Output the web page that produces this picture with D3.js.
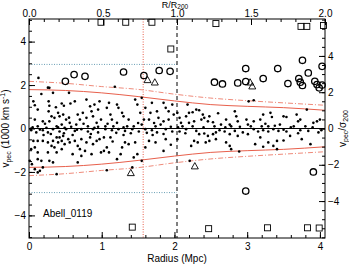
<!DOCTYPE html>
<html><head><meta charset="utf-8">
<script src="https://cdn.jsdelivr.net/npm/d3@7"></script>
<style>body{margin:0;background:#fff}svg{display:block}text{font-family:"Liberation Sans",Arial,sans-serif;fill:#000}</style>
</head><body><svg id="c" width="349" height="265"></svg>
<script>
// ---- data ----
const clusterName = "Abell_0119";
const r200 = 2.035;        // Mpc
const sigma200 = 0.835;    // 1000 km/s
const rLimit = 1.57;       // Mpc (red dotted line)
const vCut = 2.95;         // blue dotted lines
const xTicks = [0,1,2,3,4];
const topTicks = [0.0,0.5,1.0,1.5,2.0];
const yTicks = [-4,-2,0,2,4];
const profR = [0, 0.5, 1.0, 1.5, 2.0, 2.5, 3.0, 3.5, 4.07];
const profSolid = [1.79, 1.75, 1.64, 1.47, 1.27, 1.10, 1.02, 0.96, 0.84];
const profDash = [2.17, 2.08, 1.93, 1.80, 1.58, 1.40, 1.28, 1.18, 1.07];
const members = [
[0.17,1.59],[0.28,1.87],[0.33,1.64],[0.55,1.64],[0.06,1.25],[0.08,1.07],[0.12,0.87],[0.27,1.25],[0.28,1.05],[0.37,0.98],
[0.45,1.15],[0.48,1.05],[0.57,1.15],[0.63,1.25],[0.79,1.33],[0.84,1.02],[0.9,1.1],[0.97,1.25],[0.95,0.87],[0.86,0.79],
[0.27,0.79],[0.40,0.72],[0.42,0.56],[0.47,0.64],[0.31,0.56],[0.35,0.49],[0.08,0.41],[0.19,0.33],[0.28,0.33],[0.51,0.41],
[0.56,0.26],[0.67,0.64],[0.70,0.41],[0.74,0.72],[0.79,0.49],[0.88,0.56],[0.93,0.26],[0.99,0.41],[0.65,0.18],[0.45,0.18],
[0.12,0.1],[0.24,0.03],[0.38,0.1],[0.49,0.03],[0.81,0.1],[0.9,0.03],[0.03,0.0],[0.13,2.33],[0.26,1.88],[1.18,1.92],
[0.03,-0.08],[0.1,-0.18],[0.19,-0.08],[0.26,-0.18],[0.33,-0.03],[0.42,-0.14],[0.51,-0.03],[0.63,-0.11],[0.72,-0.03],[0.81,-0.14],
[0.88,-0.03],[0.95,-0.18],[0.06,-0.57],[0.12,-0.57],[0.19,-0.57],[0.26,-0.64],[0.33,-0.57],[0.38,-0.41],[0.40,-0.64],[0.45,-0.57],
[0.42,-0.41],[0.47,-0.34],[0.49,-0.72],[0.54,-0.49],[0.56,-0.64],[0.31,-0.8],[0.35,-0.87],[0.03,-0.95],[0.08,-0.87],[0.12,-1.1],
[0.26,-1.1],[0.38,-1.1],[0.45,-0.95],[0.63,-0.57],[0.67,-0.8],[0.72,-0.49],[0.79,-0.64],[0.84,-0.41],[0.88,-0.72],[0.93,-0.57],
[0.97,-0.49],[0.99,-1.1],[0.77,-1.03],[0.72,-1.26],[0.67,-1.56],[0.6,-1.18],[0.86,-1.18],[0.01,-1.49],[0.04,-1.64],[0.12,-1.41],
[0.17,-1.49],[0.28,-1.49],[0.33,-1.56],[0.08,-1.87],[0.12,-2.02],[0.15,-1.95],[0.19,-1.79],[0.38,-2.1],[0.2,-0.3],[0.6,-0.3],
[1.10,1.18],[1.07,0.95],[1.21,1.1],[1.23,0.95],[1.28,0.72],[1.12,0.64],[1.14,0.41],[1.21,0.26],[1.30,0.56],[1.37,0.41],
[1.46,1.33],[1.49,1.1],[1.55,1.41],[1.53,0.72],[1.6,0.95],[1.58,0.41],[1.65,0.41],[1.69,1.18],[1.67,0.72],[1.76,0.79],
[1.78,0.49],[1.85,1.18],[1.88,0.95],[1.92,0.79],[1.99,0.64],[1.97,1.1],[1.85,0.33],[1.92,0.41],[1.05,0.1],[1.35,0.1],
[1.44,0.1],[1.55,0.18],[1.74,0.1],[1.81,0.18],[1.16,0.1],
[1.05,-0.03],[1.14,-0.08],[1.23,-0.03],[1.32,-0.11],[1.42,-0.03],[1.51,-0.14],[1.6,-0.03],[1.69,-0.08],[1.76,-0.18],[1.88,-0.03],
[1.97,-0.14],[1.03,-0.41],[1.12,-0.41],[1.32,-0.64],[1.37,-0.72],[1.28,-0.87],[1.46,-0.64],[1.65,-0.57],[1.74,-0.64],[1.6,-0.87],
[1.88,-0.49],[1.07,-0.87],[1.03,-1.03],[1.1,-1.1],[1.26,-1.18],[1.49,-1.18],[1.44,-1.33],[1.85,-1.03],[1.55,-1.49],[1.42,-1.79],
[1.07,-1.92],[1.21,-1.41],[1.3,-0.3],[1.7,-0.3],
[2.18,1.1],[2.30,0.87],[2.34,0.84],[2.25,0.75],[2.16,0.56],[2.2,0.72],[2.39,0.64],[2.37,0.41],[2.41,0.49],[2.46,0.33],
[2.48,0.56],[2.53,0.29],[2.04,0.72],[2.07,0.49],[2.09,0.26],[2.11,0.1],[2.2,0.26],[2.27,0.33],[2.64,0.18],[2.71,0.41],
[2.76,0.18],[2.83,0.79],[2.85,0.56],[2.87,0.33],[2.78,0.1],[2.99,0.41],[3.01,0.18],[3.02,1.25],
[2.07,-0.14],[2.16,-0.03],[2.3,-0.11],[2.34,-0.26],[2.41,-0.23],[2.46,-0.34],[2.53,-0.26],[2.57,-0.18],[2.62,-0.08],[2.69,-0.14],
[2.76,-0.26],[2.83,-0.11],[2.87,-0.34],[2.94,-0.18],[3.01,-0.26],[2.27,-0.57],[2.32,-0.64],[2.43,-0.64],[2.48,-0.57],[2.57,-0.49],
[2.71,-0.64],[2.76,-0.8],[2.23,-0.8],[2.78,-0.95],[2.89,-1.06],[2.21,-1.49],[2.04,-0.49],
[3.09,1.3],[3.82,0.87],[3.22,0.64],[3.32,0.72],[3.34,0.53],[3.18,0.41],[3.09,0.33],[3.5,0.56],[3.54,0.53],[3.68,0.64],
[3.7,0.33],[3.73,0.41],[3.91,0.26],[3.96,0.33],[4.0,0.41],[3.29,0.1],[3.38,0.13],[3.45,0.18],[3.64,0.1],[3.8,0.1],[3.2,0.1],
[3.09,-0.03],[3.15,-0.14],[3.22,-0.08],[3.29,-0.14],[3.36,-0.03],[3.43,-0.11],[3.54,-0.14],[3.73,-0.08],[3.84,-0.11],[3.98,-0.18],
[3.11,-0.72],[3.18,-0.41],[3.22,-0.84],[3.29,-0.64],[3.36,-0.8],[3.41,-0.57],[3.41,-0.95],[3.75,-0.49],[3.87,-0.72],[3.59,-0.34],
[0.05,0.05],[0.15,-0.05],[0.22,0.22],[0.3,-0.25],[0.4,0.05],[0.48,-0.22],[0.58,0.08],[0.66,-0.06],[0.75,0.22],[0.85,-0.25],
[0.95,0.08],[1.08,0.22],[1.2,-0.2],[1.3,0.05],[1.4,-0.22],[1.5,0.25],[1.62,-0.2],[1.72,0.25],[1.85,-0.25],[1.95,0.08],
[2.05,0.05],[2.15,-0.22],[2.25,0.1],[2.4,0.05],[2.55,0.1],[2.7,0.05],[2.9,0.08],[3.05,0.1],[3.25,0.22],[3.5,-0.06],
[3.6,0.05],[3.7,-0.22],[3.9,0.06],[4.02,-0.08],[0.55,0.5],[0.7,-0.95],[1.15,-0.6],[1.95,-0.75],[2.6,0.7],[3.5,-0.55]
];
const circles = [[0.50,2.17],[0.62,2.48],[0.77,2.4],[1.30,2.6],[1.58,2.44],[1.79,2.67],[1.94,2.63],
[2.55,2.13],[2.66,2.05],[2.87,2.1],[2.98,2.76],[2.98,2.16],[3.22,2.3],[3.42,2.76],[3.56,2.07],[3.71,2.3],[3.73,2.13],
[3.76,1.98],[3.76,3.14],[3.84,2.56],[3.93,2.17],[3.96,2.02],[3.99,1.87],[4.03,2.0],[4.03,2.86],[2.98,-2.88],[3.91,-2.0]];
const triangles = [[1.63,2.24],[1.73,2.13],[3.04,2.13],[3.07,1.95],[1.40,-2.04],[2.28,-1.73]];
const squares = [[0.99,4.89],[1.33,4.89],[1.69,4.89],[1.95,3.66],[2.57,4.83],[3.74,4.7],[3.82,4.7],[4.05,4.74],
[1.42,-4.54],[2.47,-4.61],[3.28,-4.57],[3.83,-4.57],[3.99,-4.58]];

// ---- drawing ----
const svg = d3.select("#c");
const L=29,R=325,T=19,B=238;
const x = d3.scaleLinear().domain([0,4.07]).range([L,R]);
const xTop = d3.scaleLinear().domain([0,4.07/r200]).range([L,R]);
const y = d3.scaleLinear().domain([-5.04,5.04]).range([B,T]);
const yR = d3.scaleLinear().domain([-5.04/sigma200,5.04/sigma200]).range([B,T]);

const g = svg.append("g");
g.append("line").attr("x1",L).attr("x2",R).attr("y1",y(0)).attr("y2",y(0)).attr("stroke","#000").attr("stroke-width",1);
[vCut,-vCut].forEach(v=>g.append("line").attr("x1",L).attr("x2",x(r200)).attr("y1",y(v)).attr("y2",y(v))
  .attr("stroke","#6a9fb5").attr("stroke-width",1).attr("stroke-dasharray","1,1.5"));
g.append("line").attr("x1",x(rLimit)).attr("x2",x(rLimit)).attr("y1",T).attr("y2",B)
  .attr("stroke","#e8604c").attr("stroke-width",1).attr("stroke-dasharray","1,1.5");
g.append("line").attr("x1",x(r200)).attr("x2",x(r200)).attr("y1",T).attr("y2",B)
  .attr("stroke","#000").attr("stroke-width",1).attr("stroke-dasharray","4,3");

const line = d3.line().curve(d3.curveMonotoneX);
[1,-1].forEach(s=>{
  g.append("path").attr("d",line(profR.map((r,i)=>[x(r),y(s*profSolid[i])])))
   .attr("fill","none").attr("stroke","#e8604c").attr("stroke-width",1);
  g.append("path").attr("d",line(profR.map((r,i)=>[x(r),y(s*profDash[i])])))
   .attr("fill","none").attr("stroke","#ef8a7a").attr("stroke-width",1).attr("stroke-dasharray","5,2,1,2");
});

g.selectAll(".m").data(members).join("circle").attr("cx",d=>x(d[0])).attr("cy",d=>y(d[1])).attr("r",1.3).attr("fill","#000");
g.selectAll(".o").data(circles).join("circle").attr("cx",d=>x(d[0])).attr("cy",d=>y(d[1])).attr("r",3.2)
  .attr("fill","none").attr("stroke","#000").attr("stroke-width",1.3);
g.selectAll(".t").data(triangles).join("path").attr("transform",d=>`translate(${x(d[0])},${y(d[1])})`)
  .attr("d","M0,-3.5L3.5,2.8L-3.5,2.8Z").attr("fill","none").attr("stroke","#000").attr("stroke-width",0.9);
g.selectAll(".s").data(squares).join("rect").attr("x",d=>x(d[0])-3).attr("y",d=>y(d[1])-3).attr("width",6).attr("height",6)
  .attr("fill","none").attr("stroke","#000").attr("stroke-width",0.9);

function styleAxis(sel){sel.select(".domain").remove();sel.selectAll("line").attr("stroke","#000");
  sel.selectAll("text").attr("font-size","10px").attr("font-family","Liberation Sans, Arial, sans-serif");}
const fmtTop = d3.format(".1f");
svg.append("g").attr("transform",`translate(0,${B})`)
  .call(d3.axisBottom(x).tickValues(xTicks).tickSizeInner(-6).tickSizeOuter(0).tickPadding(5).tickFormat(d3.format("d"))).call(styleAxis);
svg.append("g").attr("transform",`translate(0,${B})`)
  .call(d3.axisBottom(x).tickValues(d3.range(0,4.07,0.2)).tickSize(-3).tickFormat("")).call(styleAxis);
svg.append("g").attr("transform",`translate(0,${T})`)
  .call(d3.axisTop(xTop).tickValues(topTicks).tickSizeInner(-6).tickSizeOuter(0).tickPadding(2).tickFormat(fmtTop)).call(styleAxis);
svg.append("g").attr("transform",`translate(0,${T})`)
  .call(d3.axisTop(xTop).tickValues(d3.range(0,2.001,0.1)).tickSize(-3).tickFormat("")).call(styleAxis);
svg.append("g").attr("transform",`translate(${L},0)`)
  .call(d3.axisLeft(y).tickValues(yTicks).tickSizeInner(-6).tickSizeOuter(0).tickPadding(3).tickFormat(d3.format("d"))).call(styleAxis);
svg.append("g").attr("transform",`translate(${L},0)`)
  .call(d3.axisLeft(y).tickValues(d3.range(-5,5.01,0.5)).tickSize(-3).tickFormat("")).call(styleAxis);
svg.append("g").attr("transform",`translate(${R},0)`)
  .call(d3.axisRight(yR).tickValues(yTicks).tickSizeInner(-6).tickSizeOuter(0).tickPadding(3).tickFormat(d3.format("d"))).call(styleAxis);
svg.append("g").attr("transform",`translate(${R},0)`)
  .call(d3.axisRight(yR).tickValues(d3.range(-6,6.01,0.5)).tickSize(-3).tickFormat("")).call(styleAxis);
svg.append("rect").attr("x",L).attr("y",T).attr("width",R-L).attr("height",B-T).attr("fill","none").attr("stroke","#000").attr("stroke-width",1);

svg.append("text").attr("x",(L+R)/2).attr("y",262).attr("text-anchor","middle").attr("font-size","10px").text("Radius (Mpc)");
const tl = svg.append("text").attr("x",175).attr("y",8.3).attr("text-anchor","middle").attr("font-size","9px");
tl.append("tspan").text("R/R");
tl.append("tspan").attr("font-size","6.5px").attr("dy",0.8).text("200");
const yl = svg.append("text").attr("transform",`translate(9,${(T+B)/2}) rotate(-90)`).attr("text-anchor","middle").attr("font-size","10px");
yl.append("tspan").text("v");
yl.append("tspan").attr("font-size","7px").attr("dy",2).text("pec");
yl.append("tspan").attr("dy",-2).text(" (1000 km s");
yl.append("tspan").attr("font-size","7px").attr("dy",-4).text("-1");
yl.append("tspan").attr("dy",4).text(")");
const yr = svg.append("text").attr("transform",`translate(346,${(T+B)/2}) rotate(-90)`).attr("text-anchor","middle").attr("font-size","10px");
yr.append("tspan").text("v");
yr.append("tspan").attr("font-size","7px").attr("dy",2).text("pec");
yr.append("tspan").attr("dy",-2).text("/σ");
yr.append("tspan").attr("font-size","7px").attr("dy",2).text("200");
svg.append("text").attr("x",43).attr("y",217).attr("font-size","10px").text(clusterName);
</script></body></html>
